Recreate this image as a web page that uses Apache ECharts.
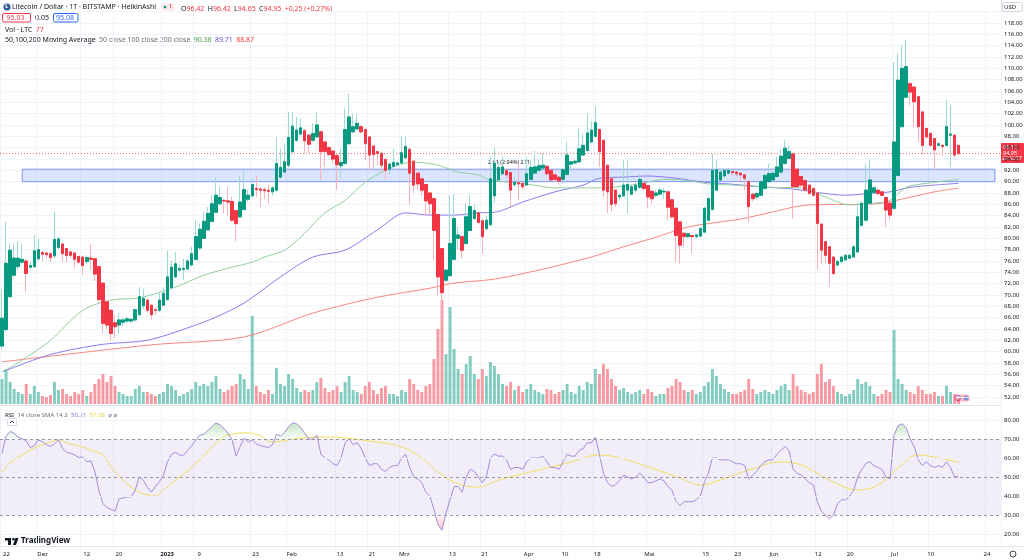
<!DOCTYPE html>
<html><head><meta charset="utf-8">
<script src="https://cdn.jsdelivr.net/npm/echarts@6/dist/echarts.min.js"></script>
<style>html,body{margin:0;padding:0;background:#fff}#c{width:1024px;height:560px}</style>
</head><body><div id="c"></div>
<script>
// ---- DATA (Heikin Ashi, LTC/USD daily, starts 2022-11-22) ----
const startDate = '2022-11-22';
const nCategories = 248;
const tickLabels = {'2022-11-22':'22','2022-12-01':'Dez','2022-12-12':'12','2022-12-20':'20','2023-01-01':'2023','2023-01-09':'9','2023-01-23':'23','2023-02-01':'Feb','2023-02-13':'13','2023-02-21':'21','2023-03-01':'Mrz','2023-03-13':'13','2023-03-21':'21','2023-04-01':'Apr','2023-04-10':'10','2023-04-18':'18','2023-05-01':'Mai','2023-05-15':'15','2023-05-23':'23','2023-06-01':'Jun','2023-06-12':'12','2023-06-20':'20','2023-07-01':'Jul','2023-07-10':'10','2023-07-24':'24'};
const priceTickValues = [52,54,56,58,60,62,64,66,68,70,72,74,76,78,80,82,84,86,88,90,92,94,96,98,100,102,104,106,108,110,112,114,116,118];
const rsiTickValues = [20,30,40,50,60,70,80];

const haOpen = [61.0,63.9,69.7,73.5,75.0,75.8,76.0,74.9,75.0,76.4,77.5,77.4,77.3,76.9,78.4,79.0,78.2,77.6,77.4,76.8,76.7,75.9,76.5,76.4,75.0,72.1,68.8,67.3,65.1,64.7,65.2,65.4,65.4,65.6,66.5,68.1,69.1,68.2,67.4,67.3,68.2,69.2,71.3,73.2,74.4,74.5,74.6,75.3,76.3,78.3,80.0,81.5,83.0,84.6,86.1,86.7,86.6,86.5,84.9,83.8,85.1,86.9,87.5,88.8,88.7,88.6,88.5,88.2,88.5,90.8,91.7,92.9,95.3,97.3,98.4,99.0,98.2,97.3,97.9,98.8,97.0,96.0,95.4,94.6,92.8,93.2,96.7,98.8,99.3,99.7,99.2,97.9,96.3,95.3,95.0,93.9,92.2,92.7,93.0,93.3,94.2,95.7,93.6,91.5,90.5,89.5,88.0,87.0,84.2,78.2,72.6,73.4,76.3,80.0,80.3,79.1,81.4,83.5,84.5,83.1,81.7,82.4,87.5,90.3,91.4,92.0,91.6,89.5,89.8,89.7,89.4,90.4,91.5,92.0,92.4,92.7,92.0,91.2,90.8,90.4,91.3,93.1,93.3,93.5,94.7,95.5,97.0,98.0,99.2,97.3,92.9,90.5,88.5,87.3,87.5,88.5,87.8,88.5,89.0,89.7,89.3,88.3,87.6,87.8,88.2,88.2,86.8,85.3,82.9,80.9,80.3,80.5,80.3,80.4,81.1,83.2,85.1,88.5,90.3,91.0,91.5,91.8,91.7,91.5,91.2,90.0,87.8,87.3,87.6,88.8,90.0,90.3,90.9,91.7,93.2,94.1,94.9,92.2,90.9,90.2,89.4,88.8,88.0,82.5,79.4,78.5,76.7,75.3,75.9,76.2,76.5,76.7,77.6,82.3,83.2,86.2,88.1,88.5,88.2,87.2,86.2,85.3,91.1,99.7,104.9,107.3,106.7,105.0,102.3,99.4,98.5,97.6,96.4,96.4,96.4,98.2,98.2,96.42];
const haClose = [65.9,75.6,77.9,76.5,76.5,76.3,73.8,75.2,77.8,78.0,77.2,77.1,76.6,79.8,79.9,77.3,77.0,77.0,76.3,75.8,75.2,76.6,76.3,73.7,69.2,65.0,64.7,63.2,64.4,65.6,65.6,65.8,65.7,67.4,69.7,69.4,67.3,66.5,67.3,69.1,70.3,73.2,74.9,75.5,74.7,74.7,76.0,77.3,80.3,81.6,83.0,84.4,86.1,87.6,87.2,86.6,86.4,83.2,82.6,86.4,88.6,87.6,89.5,88.6,88.5,88.4,88.3,88.9,93.2,92.5,93.5,97.8,99.8,99.1,99.5,97.2,96.6,98.5,100.0,95.3,95.3,94.8,94.0,93.0,93.4,99.2,101.4,99.7,100.3,98.8,96.7,94.7,94.8,95.0,92.9,92.0,93.1,93.4,93.3,95.1,96.2,91.5,89.4,89.6,88.5,86.6,86.1,81.4,73.2,70.4,74.4,79.1,83.5,80.6,77.9,83.8,85.6,84.9,82.8,80.3,83.2,90.5,93.2,92.5,92.6,91.2,88.5,89.9,89.6,89.1,91.4,92.5,92.6,92.8,92.9,91.4,90.3,90.4,90.1,92.1,94.7,93.5,93.6,95.8,96.4,98.6,99.1,100.4,95.3,88.5,88.2,86.0,86.1,87.6,89.4,89.5,89.1,89.4,90.4,88.8,87.3,87.0,88.0,88.5,88.3,85.5,83.8,80.5,78.8,80.3,80.8,80.3,80.6,81.7,85.3,87.0,92.0,92.1,91.7,92.0,92.0,91.6,91.4,91.2,90.6,85.6,87.0,87.9,90.0,91.1,91.4,91.5,92.6,94.5,95.9,95.3,89.1,89.1,89.4,88.5,87.9,87.6,82.6,77.9,77.0,75.6,73.8,75.9,76.7,77.0,77.0,78.5,83.8,86.2,88.5,90.3,88.9,87.9,87.6,85.0,84.1,97.0,107.9,110.0,110.3,105.8,104.1,99.7,96.4,97.9,96.4,95.6,96.7,96.2,99.7,98.4,94.7,94.95];
const haLow = [60.5,63.5,69.5,73.0,74.5,75.5,70.6,74.5,74.8,76.0,76.0,76.5,75.8,76.5,78.0,75.8,75.8,76.5,74.7,75.4,73.5,75.5,74.5,72.5,68.5,63.2,64.0,62.0,62.4,63.2,64.5,65.0,65.0,65.3,66.4,67.5,66.9,65.7,66.4,67.0,68.0,69.0,71.0,73.0,74.0,72.6,74.3,75.0,76.0,78.0,79.8,81.3,82.8,84.4,85.8,84.4,84.1,82.9,79.4,83.5,84.8,86.5,87.3,87.3,85.5,87.0,86.1,87.5,88.3,90.5,91.5,92.5,95.0,97.0,98.0,95.0,95.0,97.0,97.7,90.3,92.6,94.5,93.2,88.5,90.5,93.0,96.5,98.6,99.0,98.5,93.8,92.0,92.3,92.9,91.7,90.3,91.3,92.5,92.7,93.0,94.0,86.0,88.0,88.5,87.5,84.1,84.0,76.1,70.0,65.6,72.3,73.2,76.0,78.0,76.5,78.9,81.2,83.3,82.5,77.3,81.4,82.2,86.3,90.0,91.0,90.5,85.5,89.0,86.7,88.5,89.2,90.2,91.3,91.8,92.2,90.8,90.2,89.9,89.5,90.2,91.1,92.0,93.1,93.3,94.5,95.3,96.8,97.8,92.6,87.3,84.4,84.7,85.5,86.7,87.3,84.4,87.5,88.2,88.8,88.5,85.3,86.1,87.2,87.5,87.0,83.2,83.5,75.8,75.5,78.5,80.0,77.3,80.0,80.2,80.9,83.0,84.9,88.3,90.1,90.8,91.3,91.0,90.9,90.0,88.5,82.8,86.5,87.0,87.4,88.6,89.8,90.1,90.7,91.5,93.0,93.9,83.5,88.9,89.1,88.3,87.7,87.4,74.4,75.6,75.6,71.5,73.5,75.0,75.6,76.0,76.3,76.5,77.4,82.1,83.0,86.0,87.8,87.6,87.4,82.0,83.2,85.0,90.9,99.5,104.7,103.5,99.5,97.0,94.7,97.6,96.2,92.0,96.2,94.5,96.2,92.6,94.1,94.65];
const haHigh = [71.1,82.9,79.1,79.2,79.5,79.0,76.3,76.0,80.6,80.0,77.8,77.6,77.5,84.7,80.3,79.2,78.4,77.8,77.5,77.0,76.8,77.0,79.0,76.5,75.1,72.2,69.0,67.5,66.5,66.7,66.0,66.2,66.0,67.6,71.4,71.1,69.3,68.3,67.6,70.5,71.4,77.9,76.0,77.6,75.3,76.4,76.3,78.5,83.2,82.6,84.7,85.5,87.6,90.8,89.1,86.9,89.1,87.3,85.0,91.1,92.0,88.5,90.5,91.0,89.0,89.0,89.5,89.2,97.8,95.8,96.7,102.3,102.3,101.4,101.1,99.2,98.4,100.3,102.3,99.0,97.2,96.2,95.6,94.8,95.8,102.9,105.5,102.0,101.9,100.0,99.4,98.1,96.5,95.4,95.2,94.1,93.4,95.8,93.6,98.0,97.9,96.0,93.8,91.7,90.7,89.7,88.2,87.2,84.4,78.4,74.6,87.6,87.9,82.0,80.5,86.1,87.6,86.0,84.7,83.3,84.0,94.4,96.1,93.5,94.4,92.2,91.8,90.8,93.2,90.0,94.4,93.8,95.5,93.8,95.0,92.9,92.2,91.4,91.0,92.4,97.0,93.7,93.8,99.4,98.5,102.0,100.6,103.3,99.4,97.5,93.0,90.7,88.7,87.9,93.8,93.8,89.4,89.8,91.4,89.9,89.5,88.5,88.5,89.0,88.8,88.4,87.0,85.5,83.1,81.1,81.0,80.7,80.8,82.0,85.6,87.3,94.9,93.8,92.3,92.4,92.4,92.0,91.9,91.7,91.4,90.2,88.0,88.2,90.2,91.4,93.2,91.8,94.4,95.8,97.4,96.4,95.1,92.4,91.1,90.4,89.6,89.0,88.2,82.7,79.6,78.7,76.9,76.2,77.0,77.3,77.3,78.8,86.2,86.5,93.2,93.8,89.2,88.8,88.4,87.4,86.4,111.1,112.6,114.1,115.0,107.5,106.9,105.2,102.5,99.6,98.7,97.8,96.9,96.6,104.4,103.5,98.4,96.42];
const volume = [25,35,22,15,12,10,20,10,18,12, 8,7,9,22,14,15,10,8,12,10, 14,8,12,20,25,30,22,28,18,12, 10,8,8,15,18,12,12,10,8,10, 12,20,18,14,8,10,12,15,22,18, 20,18,22,28,15,12,14,18,20,30, 25,15,88,18,12,10,14,10,36,20, 18,30,25,16,12,14,12,14,22,26, 16,12,14,18,12,22,28,14,12,10, 18,22,14,10,16,18,10,10,8,14, 12,25,20,14,12,18,20,45,75,104, 50,97,55,35,30,40,48,30,25,35, 28,42,38,30,20,18,22,14,18,12, 15,20,14,12,10,15,14,10,12,14, 20,12,10,18,14,22,20,35,30,40, 35,25,18,14,16,12,10,12,14,10, 15,12,8,10,10,16,18,25,22,14, 12,14,10,12,18,22,35,28,20,15, 12,10,10,12,14,25,15,10,12,14, 12,10,14,18,20,14,30,18,14,12, 10,12,30,40,22,25,18,12,10,8, 10,14,25,20,22,18,10,8,10,14, 12,74,25,20,14,12,10,18,14,10, 10,12,8,8,18,12,10,6];
const rsi = [62.6,71.5,74.0,73.0,71.0,70.2,69.0,65.5,66.5,69.5, 68.5,67.0,66.0,67.5,69.5,65.0,63.0,62.5,61.6,60.3, 60.5,58.0,58.5,53.0,43.0,36.0,34.0,33.0,32.0,38.5, 39.0,39.5,39.5,43.0,50.0,48.5,44.5,42.0,45.0,47.5, 51.0,58.0,62.0,63.0,61.5,61.5,64.0,66.5,69.5,72.0, 72.5,74.5,76.5,78.5,77.5,75.5,73.0,69.5,61.0,66.0, 70.5,68.5,69.5,67.5,66.5,66.0,65.5,67.0,72.5,71.5, 73.5,76.5,78.5,78.0,76.0,73,70,70,72,62, 60,59,57,56,60,68,70,67,68,65, 60,56,57,57,54,53,55,56,56,60, 62,55,50,49,47,42,40,33,25,22, 31,38,45,45,42,50,54,53,50,47, 50,60,62,61,61,59,54,55,55,54, 58,60,60,60,61,58,55,55,54,58, 62,61,61,64,65,68,68,71,62,52, 47,45,46,48,51,50,49,50,52,50, 47,47,48,49,48,45,43,37,35,37, 37,37,38,40,47,52,60,60,59,59, 59,58,57,57,56,49,51,53,56,58, 59,59,62,64,66,64,54,52,51,49, 47,46,37,32,30,28,30,36,38,38, 40,43,50,54,57,58,56,55,54,50, 49,72,77,78,76,70,66,59,56,58, 56,55,56,55,58,55,50,50.21];
// sampled points [dayIndex, value]
const rsiSma = [[0,52.6],[2,57.4],[5,61.6],[8,65.3],[12,68.4],[14,69.5],[16,67.9],[20,65.8],[22,64.2],[25,61.6],[27,55.3],[30,48.4],[33,43.2],[36,40.5],[38,40.0],[40,43.2],[44,50.0],[49,58.9],[53,67.9],[56,72.1],[61,73.2],[64,71.6],[67,68.4],[71,69.5],[74,70.5],[81,71.0],[89,69.5],[99,65.8],[104,60.0],[109,51.0],[114,45.8],[118,44.7],[123,48.4],[133,53.7],[141,57.9],[148,61.6],[153,60.0],[160,55.3],[168,49.5],[173,45.8],[178,48.4],[185,53.7],[193,57.9],[198,56.3],[205,48.4],[212,43.2],[217,45.8],[222,54.7],[227,61.6],[232,60.0],[237,57.68]];
const ma50 = [[0,56.4],[5,58.5],[12,62.0],[20,67.3],[27,69.1],[34,69.5],[43,71.4],[50,73.5],[57,74.9],[62,75.8],[65,76.7],[70,77.9],[75,80.9],[80,84.5],[85,86.7],[90,89.9],[95,92.0],[100,93.3],[103,93.4],[108,92.9],[113,91.7],[118,91.2],[121,90.3],[129,89.7],[137,88.9],[148,88.9],[155,89.3],[165,90.4],[170,90.2],[175,89.6],[181,89.4],[190,89.0],[198,88.9],[204,87.3],[210,85.9],[216,86.2],[220,86.7],[224,89.0],[229,89.7],[237,90.38]];
const ma100 = [[0,56.4],[12,59.5],[25,61.3],[36,62.0],[46,64.2],[53,66.1],[60,68.6],[69,73.2],[77,76.7],[85,77.9],[93,81.5],[100,84.5],[106,84.1],[112,84.1],[118,84.5],[122,84.6],[129,86.4],[137,88.2],[144,89.4],[148,90.6],[154,90.8],[160,91.0],[167,90.6],[174,89.9],[180,89.6],[190,89.0],[196,88.7],[203,88.0],[209,87.6],[216,88.0],[220,88.2],[225,89.0],[231,89.4],[237,89.71]];
const ma200 = [[0,58.2],[37,61.2],[60,62.6],[77,66.8],[93,69.6],[106,71.2],[112,72.1],[122,72.8],[133,74.4],[146,76.7],[154,78.5],[162,80.2],[170,82.0],[178,82.9],[183,83.4],[190,84.5],[200,85.9],[213,86.0],[218,86.2],[224,87.1],[231,88.2],[237,88.87]];
const zone = {fromIdx:5, toIdx:246, top:92.2, bottom:90.0};
const lastPrice = 94.95;

// ---- build ----
const dates = [];
{ const d0 = new Date(startDate + 'T00:00:00Z');
  for (let k = 0; k < nCategories; k++) { const d = new Date(d0.getTime() + k*86400000); dates.push(d.toISOString().slice(0,10)); } }
const wickData = haOpen.map((o,i)=>[o, haClose[i], haLow[i], haHigh[i]]);
const bodyData = haOpen.map((o,i)=>[o, haClose[i], Math.min(o,haClose[i]), Math.max(o,haClose[i])]);
const UP='#089981', DN='#f23645';
const volData = volume.map((v,i)=>({value:v, itemStyle:{color: haClose[i]>=haOpen[i] ? 'rgba(8,153,129,0.5)' : 'rgba(242,54,69,0.5)'}}));
const rsiOverBase = rsi.map(v=>70), rsiOverTop = rsi.map(v=>Math.max(v-70,0));
const rsiUnderBase = rsi.map(v=>Math.min(v,30)), rsiUnderTop = rsi.map(v=>30-Math.min(v,30));
const FONT = 'Noto Sans, Inter, sans-serif';
const isTick = (idx,val)=> tickLabels[val] !== undefined;
const xBase = {type:'category', data:dates, boundaryGap:true, axisLine:{show:false}, axisTick:{show:false, alignWithLabel:true},
  splitLine:{show:true, interval:isTick, lineStyle:{color:'#f0f3fa', width:1}}};

const graphics = [
    // pane separators
    {type:'line', shape:{x1:0,y1:405.5,x2:1001,y2:405.5}, style:{stroke:'#e0e3eb', lineWidth:1}, silent:true},
    {type:'line', shape:{x1:1001.5,y1:0,x2:1001.5,y2:546}, style:{stroke:'#e0e3eb', lineWidth:1}, silent:true},
    {type:'line', shape:{x1:0,y1:546.5,x2:1024,y2:546.5}, style:{stroke:'#e0e3eb', lineWidth:1}, silent:true},
    // header line 1
    {type:'circle', shape:{cx:7,cy:7,r:3.6}, style:{fill:'#345d9d'}},
    {type:'text', x:5.2, y:4, style:{text:'Ł', fill:'#fff', font:'bold 5px '+FONT}},
    {type:'text', x:12, y:3, style:{text:'Litecoin / Dollar · 1T · BITSTAMP · HeikinAshi', fill:'#131722', font:'7px '+FONT}},
    {type:'rect', shape:{x:161,y:3.5,width:14,height:7,r:3.5}, style:{fill:'#fde7e9'}},
    {type:'circle', shape:{cx:165,cy:7,r:1.3}, style:{fill:'#089981'}},
    {type:'text', x:169.5, y:3.5, style:{text:'!', fill:'#f23645', font:'bold 6px '+FONT}},
    {type:'text', x:181, y:3, style:{text:'{k|O}{r|96.42} {k|H}{r|96.42} {k|L}{r|94.65} {k|C}{r|94.95} {r|+0.25 (+0.27%)}',
      rich:{k:{fill:'#131722', font:'7px '+FONT}, r:{fill:'#f23645', font:'7px '+FONT}}}},
    // header line 2
    {type:'rect', shape:{x:2.5,y:13.5,width:28,height:8.5,r:1.5}, style:{fill:'#fff', stroke:'#f23645', lineWidth:1}},
    {type:'text', x:6.5, y:14, style:{text:'95.03', fill:'#f23645', font:'7px '+FONT}},
    {type:'text', x:35, y:14, style:{text:'0.05', fill:'#131722', font:'7px '+FONT}},
    {type:'rect', shape:{x:53.5,y:13.5,width:24.5,height:8.5,r:1.5}, style:{fill:'#fff', stroke:'#2962ff', lineWidth:1}},
    {type:'text', x:56, y:14, style:{text:'95.08', fill:'#2962ff', font:'7px '+FONT}},
    // header line 3 & 4
    {type:'text', x:5, y:24, style:{text:'{k|Vol · LTC} {r|77}', rich:{k:{fill:'#131722', font:'7px '+FONT}, r:{fill:'#f23645', font:'7px '+FONT}}}},
    {type:'text', x:5, y:33.5, style:{text:'{k|50,100,200 Moving Average} {g|50 close 100 close 200 close} {a|90.38} {b|89.71} {c|88.87}',
      rich:{k:{fill:'#131722', font:'7px '+FONT}, g:{fill:'#6a6d78', font:'7px '+FONT}, a:{fill:'#43a047', font:'7px '+FONT}, b:{fill:'#5b4fd6', font:'7px '+FONT}, c:{fill:'#e53935', font:'7px '+FONT}}}},
    // RSI header
    {type:'text', x:5, y:409.5, style:{text:'{k|RSI} {g|14 close SMA 14 2} {p|50.21} {y|57.68} {g|ø ø}',
      rich:{k:{fill:'#131722', font:'6px '+FONT}, g:{fill:'#6a6d78', font:'6px '+FONT}, p:{fill:'#8a6fd8', font:'6px '+FONT}, y:{fill:'#e8d44d', font:'6px '+FONT}}}},
    {type:'rect', shape:{x:7.5,y:418.5,width:9,height:7,r:1}, style:{fill:'#fff', stroke:'#d1d4dc', lineWidth:1}},
    {type:'polyline', shape:{points:[[10,423],[12,421],[14,423]]}, style:{stroke:'#131722', lineWidth:0.8, fill:null}},
    // measurement text
    {type:'text', x:488, y:159, style:{text:'2.61 (2.94%) 261', fill:'#131722', font:'5.5px '+FONT}},
    // last price label on axis
    {type:'rect', shape:{x:1001,y:143,width:23,height:20,r:1}, style:{fill:'#f23645'}, z:100},
    {type:'text', x:1003, y:144, style:{text:'95.13', fill:'#fff', font:'5.5px '+FONT}, z:101},
    {type:'text', x:1003, y:150, style:{text:'94.95', fill:'#fff', font:'5.5px '+FONT}, z:101},
    {type:'text', x:1002, y:156.5, style:{text:'22:32:57', fill:'#fff', font:'5px '+FONT}, z:101},
    // USD box
    {type:'rect', shape:{x:1002.5,y:2.5,width:20,height:9,r:2}, style:{fill:'#fff', stroke:'#d1d4dc', lineWidth:1}},
    {type:'text', x:1004, y:4, style:{text:'USD', fill:'#131722', font:'6px '+FONT}},
    // event icons
    {type:'rect', shape:{x:954,y:394.5,width:16,height:7,r:3.5}, style:{fill:'#f8bcc6'}},
    {type:'circle', shape:{cx:958,cy:398,r:2.5}, style:{fill:'#fff', stroke:'#9c27b0', lineWidth:0.8}},
    {type:'circle', shape:{cx:966,cy:398,r:2.5}, style:{fill:'#5b8def', stroke:'#f48fb1', lineWidth:0.8}},
    // TradingView logo
    {type:'rect', shape:{x:5,y:538,width:6,height:2.5}, style:{fill:'#131722'}},
    {type:'rect', shape:{x:8,y:538,width:3,height:7}, style:{fill:'#131722'}},
    {type:'circle', shape:{cx:13.5,cy:539.3,r:1.3}, style:{fill:'#131722'}},
    {type:'polygon', shape:{points:[[15.5,538],[18.5,538],[16,545],[13,545]]}, style:{fill:'#131722'}},
    {type:'text', x:21, y:537, style:{text:'TradingView', fill:'#131722', font:'bold 8px '+FONT}},
    // settings icon
    {type:'circle', shape:{cx:1013,cy:554,r:3}, style:{fill:'none', stroke:'#131722', lineWidth:0.8}}
];

const chart = echarts.init(document.getElementById('c'), null, {renderer:'canvas'});
chart.setOption({
  animation:false,
  backgroundColor:'#ffffff',
  textStyle:{fontFamily:FONT},
  grid:[
    {left:0, right:23, top:11.66, height:385.34},
    {left:0, right:23, top:300, height:104},
    {left:0, right:23, top:401, height:152},
    {left:0, right:23, top:540, height:6}
  ],
  xAxis:[
    Object.assign({gridIndex:0, axisLabel:{show:false}}, xBase),
    Object.assign({gridIndex:1, axisLabel:{show:false}}, xBase, {splitLine:{show:false}}),
    Object.assign({gridIndex:2, axisLabel:{show:false}}, xBase),
    Object.assign({gridIndex:3, axisLabel:{show:true, interval:isTick, margin:5, fontSize:6, color:'#131722',
      formatter:(v)=> v==='2023-01-01' ? '{b|2023}' : (tickLabels[v]||''), rich:{b:{fontWeight:'bold', fontSize:6, color:'#131722'}}}}, xBase, {splitLine:{show:false}})
  ],
  yAxis:[
    {gridIndex:0, position:'right', min:52, max:120, interval:2, axisLine:{show:false}, axisTick:{show:false},
      axisLabel:{show:false}, splitLine:{lineStyle:{color:'#f0f3fa'}}},
    {gridIndex:1, min:0, max:104, show:false},
    {gridIndex:2, position:'right', min:10, max:90, interval:10, axisLine:{show:false}, axisTick:{show:false},
      axisLabel:{show:false}, splitLine:{show:false}},
    {gridIndex:3, show:false}
  ],
  series:[
    {type:'bar', name:'vol', xAxisIndex:1, yAxisIndex:1, data:volData, barWidth:'72%', z:1},
    {type:'line', name:'MA200', data:ma200, showSymbol:false, smooth:0.3, lineStyle:{color:'#f7877f', width:1}, z:2},
    {type:'line', name:'MA100', data:ma100, showSymbol:false, smooth:0.3, lineStyle:{color:'#8a7cf0', width:1}, z:2},
    {type:'line', name:'MA50', data:ma50, showSymbol:false, smooth:0.3, lineStyle:{color:'#8fd19b', width:1}, z:2},
    {type:'candlestick', name:'wick', data:wickData, barWidth:3, z:3,
      itemStyle:{color:'#9edbcf', color0:'#f8b3b9', borderColor:'#9edbcf', borderColor0:'#f8b3b9', borderWidth:1},
      markArea:{silent:true, itemStyle:{color:'rgba(41,98,255,0.17)', borderColor:'#7d97f4', borderWidth:1},
        data:[[{xAxis:dates[zone.fromIdx], yAxis:zone.top},{xAxis:dates[zone.toIdx], yAxis:zone.bottom}]]}
    },
    {type:'candlestick', name:'body', data:bodyData, barWidth:3, z:4,
      itemStyle:{color:UP, color0:DN, borderColor:UP, borderColor0:DN, borderWidth:1},
      markLine:{silent:true, symbol:['none','none'], label:{show:false}, z:1,
        data:[{yAxis:lastPrice, lineStyle:{color:'rgba(242,54,69,0.75)', type:[1,2], width:1}}]}},
    // RSI pane
    {type:'line', xAxisIndex:2, yAxisIndex:2, data:rsiOverBase, stack:'over', showSymbol:false, lineStyle:{opacity:0}, z:1, silent:true},
    {type:'line', xAxisIndex:2, yAxisIndex:2, data:rsiOverTop, stack:'over', showSymbol:false, lineStyle:{opacity:0}, z:1, silent:true,
      areaStyle:{color:new echarts.graphic.LinearGradient(0,0,0,1,[{offset:0,color:'rgba(76,175,80,0.45)'},{offset:1,color:'rgba(76,175,80,0.05)'}])}},
    {type:'line', xAxisIndex:2, yAxisIndex:2, data:rsiUnderBase, stack:'under', showSymbol:false, lineStyle:{opacity:0}, z:1, silent:true},
    {type:'line', xAxisIndex:2, yAxisIndex:2, data:rsiUnderTop, stack:'under', showSymbol:false, lineStyle:{opacity:0}, z:1, silent:true,
      areaStyle:{color:new echarts.graphic.LinearGradient(0,0,0,1,[{offset:0,color:'rgba(242,54,69,0.05)'},{offset:1,color:'rgba(242,54,69,0.45)'}])}},
    {type:'line', name:'RSI', xAxisIndex:2, yAxisIndex:2, data:rsi, showSymbol:false, lineStyle:{color:'#a58bdb', width:1}, z:3,
      markArea:{silent:true, itemStyle:{color:'rgba(126,87,194,0.1)'}, data:[[{yAxis:30},{yAxis:70}]]},
      markLine:{silent:true, symbol:['none','none'], label:{show:false}, data:[
        {yAxis:70, lineStyle:{color:'#9598a1', type:[3,3], width:1}},
        {yAxis:50, lineStyle:{color:'#9598a1', type:[3,3], width:1}},
        {yAxis:30, lineStyle:{color:'#9598a1', type:[3,3], width:1}},
        {yAxis:80, lineStyle:{color:'#f0f3fa', type:'solid', width:1}},
        {yAxis:60, lineStyle:{color:'#f0f3fa', type:'solid', width:1}},
        {yAxis:40, lineStyle:{color:'#f0f3fa', type:'solid', width:1}},
        {yAxis:20, lineStyle:{color:'#f0f3fa', type:'solid', width:1}}]}},
    {type:'line', name:'SMA', xAxisIndex:2, yAxisIndex:2, data:rsiSma, showSymbol:false, smooth:0.4, lineStyle:{color:'#f2de5c', width:1}, z:2}
  ],
  graphic: graphics
});

// right-hand scale labels, placed at the pixel rows that the y axes give for each tick value
const scaleTexts = [];
priceTickValues.forEach(v=>{
  const py = chart.convertToPixel({yAxisIndex:0}, v);
  scaleTexts.push({type:'text', x:1004, y:py, z:150, silent:true, style:{text:v.toFixed(2), fill:'#131722', font:'6px '+FONT, verticalAlign:'middle', textVerticalAlign:'middle'}});
});
rsiTickValues.forEach(v=>{
  const py = chart.convertToPixel({yAxisIndex:2}, v);
  scaleTexts.push({type:'text', x:1004, y:py, z:150, silent:true, style:{text:v.toFixed(2), fill:'#131722', font:'6px '+FONT, verticalAlign:'middle', textVerticalAlign:'middle'}});
});
chart.setOption({graphic: graphics.concat(scaleTexts)});
</script></body></html>
